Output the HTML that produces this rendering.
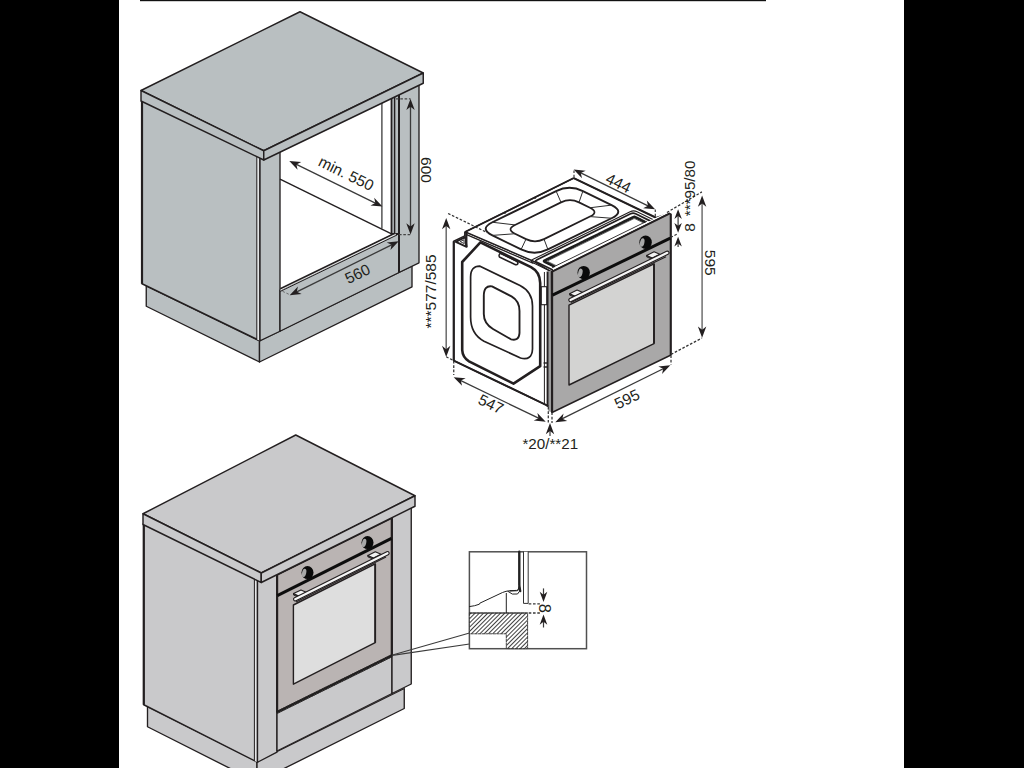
<!DOCTYPE html>
<html><head><meta charset="utf-8"><title>Oven installation dimensions</title>
<style>
html,body{margin:0;padding:0;background:#fff;}
body{width:1024px;height:768px;overflow:hidden;font-family:"Liberation Sans",sans-serif;}
svg{display:block;font-family:"Liberation Sans",sans-serif;}
</style></head><body>
<svg width="1024" height="768" viewBox="0 0 1024 768">
<rect x="0" y="0" width="1024" height="768" fill="#ffffff"/>
<rect x="0" y="0" width="119" height="768" fill="#000"/>
<rect x="904" y="0" width="120" height="768" fill="#000"/>
<rect x="140" y="-1" width="626" height="2.2" fill="#111"/>
<polygon points="146.25,286.00 259.50,341.00 259.50,362.00 146.25,306.25" fill="#b9bfc1" stroke="#231f20" stroke-width="1.35" stroke-linejoin="round" />
<polygon points="259.50,341.00 412.00,266.00 412.00,286.90 259.50,362.00" fill="#b9bfc1" stroke="#231f20" stroke-width="1.35" stroke-linejoin="round" />
<polygon points="142.00,100.00 260.00,157.00 260.00,340.75 142.00,283.75" fill="#b9bfc1" stroke="#231f20" stroke-width="1.45" stroke-linejoin="round" />
<line x1="142.00" y1="100.00" x2="142.00" y2="283.75" stroke="#231f20" stroke-width="2.2" />
<polygon points="257.00,156.00 260.00,157.00 260.00,340.75 257.00,339.50" fill="#e4e6e7" stroke="#231f20" stroke-width="0.01" stroke-linejoin="round" />
<line x1="256.80" y1="156.00" x2="256.80" y2="339.50" stroke="#231f20" stroke-width="1.0" />
<line x1="260.00" y1="157.00" x2="260.00" y2="340.75" stroke="#231f20" stroke-width="1.45" />
<polygon points="260.00,157.00 280.00,150.00 280.00,331.25 260.00,340.75" fill="#b9bfc1" stroke="#231f20" stroke-width="1.35" stroke-linejoin="round" />
<polygon points="280.00,290.00 399.00,231.50 399.00,272.50 280.00,331.25" fill="#b9bfc1" stroke="#231f20" stroke-width="1.35" stroke-linejoin="round" />
<polygon points="391.50,98.00 399.00,94.00 399.00,234.00 391.50,234.00" fill="#b9bfc1" stroke="#231f20" stroke-width="1.8" stroke-linejoin="round" />
<line x1="394.60" y1="96.00" x2="394.60" y2="234.00" stroke="#231f20" stroke-width="1.45" />
<polygon points="399.00,94.00 419.00,84.50 419.00,262.80 399.00,272.50" fill="#b9bfc1" stroke="#231f20" stroke-width="1.35" stroke-linejoin="round" />
<line x1="399.00" y1="94.00" x2="399.00" y2="272.50" stroke="#231f20" stroke-width="2.0" />
<line x1="381.90" y1="103.00" x2="381.90" y2="228.50" stroke="#333" stroke-width="1.25" />
<line x1="280.00" y1="179.20" x2="391.50" y2="233.80" stroke="#231f20" stroke-width="1.4" />
<line x1="280.30" y1="288.70" x2="395.00" y2="233.20" stroke="#231f20" stroke-width="1.7" />
<line x1="280.30" y1="290.10" x2="396.00" y2="234.10" stroke="#f4f4f4" stroke-width="0.9" />
<line x1="280.30" y1="291.40" x2="397.00" y2="235.00" stroke="#231f20" stroke-width="1.0" />
<line x1="282.50" y1="291.30" x2="290.00" y2="294.80" stroke="#555" stroke-width="0.8" stroke-dasharray="2.6 1.7"/>
<polygon points="141.00,90.50 300.00,11.75 423.25,73.00 263.75,150.75" fill="#b9bfc1" stroke="#231f20" stroke-width="1.45" stroke-linejoin="round" />
<polygon points="141.00,90.50 263.75,150.75 263.75,160.00 141.00,101.00" fill="#b9bfc1" stroke="#231f20" stroke-width="1.45" stroke-linejoin="round" />
<polygon points="263.75,150.75 423.25,73.00 423.25,83.25 263.75,160.00" fill="#b9bfc1" stroke="#231f20" stroke-width="1.45" stroke-linejoin="round" />
<line x1="295.39" y1="163.89" x2="376.36" y2="203.61" stroke="#3a3a3a" stroke-width="1.3" />
<polygon points="382.47,206.60 370.47,205.40 375.34,203.11 374.17,197.86" fill="#231f20"/>
<polygon points="289.28,160.90 301.28,162.10 296.41,164.39 297.58,169.64" fill="#231f20"/>
<text x="346.30" y="173.40" transform="rotate(26 346.30 173.40)" font-size="15.5" fill="#231f20" text-anchor="middle" dominant-baseline="central" >min. 550</text>
<line x1="295.78" y1="292.34" x2="392.62" y2="244.36" stroke="#3a3a3a" stroke-width="1.3" />
<polygon points="398.72,241.34 390.46,250.12 391.60,244.87 386.73,242.60" fill="#231f20"/>
<polygon points="289.68,295.36 297.94,286.58 296.80,291.83 301.67,294.10" fill="#231f20"/>
<text x="357.50" y="273.60" transform="rotate(-26 357.50 273.60)" font-size="15.5" fill="#231f20" text-anchor="middle" dominant-baseline="central" >560</text>
<line x1="410.50" y1="105.50" x2="410.50" y2="227.75" stroke="#3a3a3a" stroke-width="1.3" />
<polygon points="410.50,234.55 406.30,223.25 410.50,226.61 414.70,223.25" fill="#231f20"/>
<polygon points="410.50,98.70 414.70,110.00 410.50,106.64 406.30,110.00" fill="#231f20"/>
<line x1="396.00" y1="98.75" x2="410.50" y2="98.75" stroke="#444" stroke-width="1.25" stroke-dasharray="2.6 1.7"/>
<line x1="399.00" y1="234.60" x2="410.50" y2="234.60" stroke="#444" stroke-width="1.25" stroke-dasharray="2.6 1.7"/>
<text x="426.50" y="170.00" transform="rotate(90 426.50 170.00)" font-size="15.5" fill="#231f20" text-anchor="middle" dominant-baseline="central" >600</text>
<polygon points="453.75,241.25 464.80,235.80 464.80,232.20 465.40,231.80 534.50,261.60 551.40,271.70 552.00,412.50 548.75,406.25 453.75,360.60" fill="#fff" stroke="#231f20" stroke-width="1.5" stroke-linejoin="round" />
<line x1="453.75" y1="241.25" x2="453.75" y2="360.60" stroke="#231f20" stroke-width="2.2" />
<line x1="453.75" y1="360.60" x2="548.75" y2="406.25" stroke="#231f20" stroke-width="1.9" />
<polygon points="465.40,231.80 573.75,178.10 655.60,217.50 669.40,213.40 551.40,271.70 534.50,261.60" fill="#fff" stroke="#231f20" stroke-width="1.3" stroke-linejoin="round" />
<line x1="466.60" y1="234.60" x2="533.50" y2="263.40" stroke="#231f20" stroke-width="1.3" />
<line x1="504.20" y1="212.60" x2="505.60" y2="213.40" stroke="#231f20" stroke-width="1.6" />
<line x1="534.40" y1="197.60" x2="535.80" y2="198.40" stroke="#231f20" stroke-width="1.6" />
<line x1="573.75" y1="178.10" x2="655.60" y2="217.50" stroke="#231f20" stroke-width="2.0" />
<line x1="465.40" y1="231.80" x2="573.75" y2="178.10" stroke="#231f20" stroke-width="1.7" />
<polygon points="455.80,241.80 465.20,237.20 466.60,246.80" fill="#fff" stroke="#231f20" stroke-width="1.9" stroke-linejoin="round" />
<line x1="466.30" y1="232.00" x2="466.30" y2="247.00" stroke="#231f20" stroke-width="2.3" />
<polygon points="460.20,241.60 463.80,239.80 464.30,243.60" fill="#fff" stroke="#231f20" stroke-width="0.9" stroke-linejoin="round" />
<path d="M462.2,262 L462.2,350 Q462.6,357.5 469,361.3 L513.5,383.6 L540.2,366.2 L540.2,283 Q540,272 531,267.2 L480.4,242.4 L462.2,262 Z" fill="none" stroke="#231f20" stroke-width="2.6" stroke-linejoin="round" stroke-linecap="round" />
<path d="M470.6,277 Q470.6,266 480,266.2 L520,285.6 Q532.5,292 532.5,306 L532.5,349 Q532,361 520.5,358 L484,341.2 Q470.6,334 470.6,317 Z" fill="none" stroke="#231f20" stroke-width="1.7" stroke-linejoin="round" stroke-linecap="round" />
<path d="M483.8,296 Q483.8,285 492,286.4 L511.5,296.4 Q519.5,301 519.5,311 L519.5,333 Q519,341.5 511,339.3 L493,329 Q483.8,323.5 483.8,314 Z" fill="none" stroke="#231f20" stroke-width="1.9" stroke-linejoin="round" stroke-linecap="round" />
<path d="M500.2,253.2 L516.3,261 Q518.6,262.4 517.7,264 Q516.8,265.3 514.5,264.3 L499.4,257 Q498.4,255 500.2,253.2 Z" fill="#fff" stroke="#231f20" stroke-width="1.5" stroke-linejoin="round" stroke-linecap="round" />
<line x1="500.60" y1="253.00" x2="516.60" y2="260.80" stroke="#231f20" stroke-width="2.0" />
<path d="M492.40,222.26 L556.10,191.05 Q569.50,184.48 582.90,191.05 L611.60,205.11 Q625.00,211.68 611.60,218.25 L547.90,249.46 Q534.50,256.02 521.10,249.46 L492.40,235.40 Q479.00,228.83 492.40,222.26 Z" fill="none" stroke="#231f20" stroke-width="1.9" stroke-linejoin="round" stroke-linecap="round" />
<path d="M515.00,224.91 L561.00,202.37 Q570.00,197.96 579.00,202.37 L590.00,207.76 Q599.00,212.17 590.00,216.58 L544.00,239.12 Q535.00,243.53 526.00,239.12 L515.00,233.73 Q506.00,229.32 515.00,224.91 Z" fill="none" stroke="#231f20" stroke-width="1.7" stroke-linejoin="round" stroke-linecap="round" />
<line x1="515.00" y1="224.91" x2="492.40" y2="222.26" stroke="#2d2d2d" stroke-width="1.0" />
<line x1="515.00" y1="233.73" x2="492.40" y2="235.40" stroke="#2d2d2d" stroke-width="1.0" />
<line x1="544.00" y1="239.12" x2="547.90" y2="249.46" stroke="#2d2d2d" stroke-width="1.0" />
<line x1="526.00" y1="239.12" x2="521.10" y2="249.46" stroke="#2d2d2d" stroke-width="1.0" />
<line x1="561.00" y1="202.37" x2="556.10" y2="191.05" stroke="#2d2d2d" stroke-width="1.0" />
<line x1="579.00" y1="202.37" x2="582.90" y2="191.05" stroke="#2d2d2d" stroke-width="1.0" />
<line x1="590.00" y1="216.58" x2="611.60" y2="218.25" stroke="#2d2d2d" stroke-width="1.0" />
<line x1="590.00" y1="207.76" x2="611.60" y2="205.11" stroke="#2d2d2d" stroke-width="1.0" />
<path d="M550.90,271.45 L533.10,262.73 Q529.60,261.02 533.10,259.30 L630.10,211.77 Q633.60,210.06 637.10,211.77 L654.90,220.49" fill="none" stroke="#231f20" stroke-width="1.1" stroke-linejoin="round" stroke-linecap="round" />
<path d="M553.40,270.23 L536.90,262.14 Q534.40,260.92 536.90,259.69 L630.60,213.78 Q633.10,212.56 635.60,213.78 L652.10,221.87" fill="none" stroke="#231f20" stroke-width="1.7" stroke-linejoin="round" stroke-linecap="round" />
<path d="M553.70,266.16 L544.70,261.75 Q543.50,261.17 544.70,260.58 L633.10,217.26 Q634.30,216.67 635.50,217.26 L644.50,221.67" fill="none" stroke="#1d1d1d" stroke-width="2.7" stroke-linejoin="round" stroke-linecap="round" stroke-dasharray="1.3 0.45" stroke-linecap="butt"/>
<path d="M555.80,265.43 L547.90,261.56 Q547.10,261.16 547.90,260.77 L633.50,218.83 Q634.30,218.44 635.10,218.83 L643.00,222.70" fill="none" stroke="#333" stroke-width="0.7" stroke-linejoin="round" stroke-linecap="round" />
<line x1="552.10" y1="267.63" x2="647.10" y2="221.08" stroke="#231f20" stroke-width="0.9" />
<line x1="544.40" y1="272.00" x2="544.40" y2="404.50" stroke="#231f20" stroke-width="1.0" />
<rect x="548.3" y="271" width="3.4" height="140.5" fill="#9c9c9c"/>
<line x1="547.60" y1="271.50" x2="547.60" y2="406.80" stroke="#231f20" stroke-width="2.0" />
<rect x="541.3" y="286.7" width="5.4" height="18" fill="#fff" stroke="#231f20" stroke-width="1.1"/>
<line x1="543.60" y1="363.00" x2="547.00" y2="363.00" stroke="#231f20" stroke-width="1.4" />
<line x1="543.60" y1="367.00" x2="547.00" y2="367.00" stroke="#231f20" stroke-width="1.4" />
<polygon points="551.40,271.70 669.40,213.40 671.00,214.20 671.00,355.00 552.00,412.50" fill="#a9a8a8" stroke="#231f20" stroke-width="1.4" stroke-linejoin="round" />
<line x1="552.10" y1="271.70" x2="552.10" y2="412.30" stroke="#231f20" stroke-width="2.1" />
<line x1="670.60" y1="214.00" x2="670.60" y2="355.00" stroke="#231f20" stroke-width="1.8" />
<line x1="553.00" y1="269.60" x2="668.00" y2="212.60" stroke="#fff" stroke-width="1.2" />
<line x1="551.60" y1="271.90" x2="669.40" y2="213.60" stroke="#231f20" stroke-width="1.9" />
<line x1="552.50" y1="295.20" x2="670.30" y2="238.20" stroke="#0d0d0d" stroke-width="3.0" />
<polygon points="569.00,305.20 654.00,263.80 654.00,343.60 569.00,385.00" fill="#d3d3d2" stroke="#231f20" stroke-width="1.4" stroke-linejoin="round" />
<line x1="654.00" y1="263.80" x2="654.00" y2="343.60" stroke="#231f20" stroke-width="1.8" />
<ellipse cx="583.70" cy="272.60" rx="6.20" ry="6.70" fill="#0a0a0a"/>
<ellipse cx="580.40" cy="272.90" rx="2.16" ry="4.32" fill="#a8a8a8" transform="rotate(12 580.40 272.60)"/>
<ellipse cx="645.60" cy="242.20" rx="6.20" ry="6.70" fill="#0a0a0a"/>
<ellipse cx="642.30" cy="242.50" rx="2.16" ry="4.32" fill="#a8a8a8" transform="rotate(12 642.30 242.20)"/>
<polygon points="569.60,293.70 575.30,296.30 575.30,297.70 569.60,295.10" fill="#555" stroke="#231f20" stroke-width="0.9" stroke-linejoin="round" />
<polygon points="569.60,293.70 577.10,290.00 582.80,292.50 575.30,296.30" fill="#f2f2f2" stroke="#231f20" stroke-width="1.1" stroke-linejoin="round" />
<polygon points="646.60,255.40 652.30,258.00 652.30,259.40 646.60,256.80" fill="#555" stroke="#231f20" stroke-width="0.9" stroke-linejoin="round" />
<polygon points="646.60,255.40 654.10,251.70 659.80,254.20 652.30,258.00" fill="#f2f2f2" stroke="#231f20" stroke-width="1.1" stroke-linejoin="round" />
<line x1="571.00" y1="302.60" x2="666.00" y2="256.70" stroke="#231f20" stroke-width="1.1" />
<line x1="570.50" y1="300.00" x2="667.30" y2="252.80" stroke="#231f20" stroke-width="4.4" stroke-linecap="round"/>
<line x1="570.50" y1="300.00" x2="667.30" y2="252.80" stroke="#f6f6f6" stroke-width="2.2" stroke-linecap="round"/>
<line x1="579.79" y1="172.44" x2="649.01" y2="206.36" stroke="#3a3a3a" stroke-width="1.3" />
<polygon points="655.12,209.35 643.12,208.15 647.99,205.86 646.82,200.61" fill="#231f20"/>
<polygon points="573.68,169.45 585.68,170.65 580.81,172.94 581.98,178.19" fill="#231f20"/>
<line x1="574.00" y1="170.50" x2="574.00" y2="178.00" stroke="#444" stroke-width="1.25" stroke-dasharray="2.6 1.7"/>
<line x1="655.30" y1="209.50" x2="655.30" y2="217.50" stroke="#444" stroke-width="1.25" stroke-dasharray="2.6 1.7"/>
<text x="618.60" y="183.00" transform="rotate(26 618.60 183.00)" font-size="15.5" fill="#231f20" text-anchor="middle" dominant-baseline="central" >444</text>
<line x1="446.20" y1="224.80" x2="446.20" y2="350.30" stroke="#6a6a6a" stroke-width="1.5" />
<polygon points="446.20,357.10 442.00,345.80 446.20,349.16 450.40,345.80" fill="#231f20"/>
<polygon points="446.20,218.00 450.40,229.30 446.20,225.94 442.00,229.30" fill="#231f20"/>
<line x1="448.10" y1="213.50" x2="487.50" y2="232.70" stroke="#333" stroke-width="1.25" stroke-dasharray="2.6 1.7"/>
<line x1="446.20" y1="356.80" x2="453.75" y2="360.60" stroke="#333" stroke-width="1.25" stroke-dasharray="2.6 1.7"/>
<line x1="453.75" y1="361.00" x2="453.75" y2="375.00" stroke="#333" stroke-width="1.25" stroke-dasharray="2.6 1.7"/>
<text x="430.50" y="291.50" transform="rotate(-90 430.50 291.50)" font-size="15.5" fill="#231f20" text-anchor="middle" dominant-baseline="central" >***577/585</text>
<line x1="459.80" y1="380.11" x2="539.60" y2="418.69" stroke="#3a3a3a" stroke-width="1.3" />
<polygon points="545.72,421.65 533.72,420.51 538.57,418.19 537.37,412.95" fill="#231f20"/>
<polygon points="453.68,377.15 465.68,378.29 460.83,380.61 462.03,385.85" fill="#231f20"/>
<text x="491.00" y="404.00" transform="rotate(26 491.00 404.00)" font-size="15.5" fill="#231f20" text-anchor="middle" dominant-baseline="central" >547</text>
<line x1="561.38" y1="419.14" x2="664.22" y2="368.26" stroke="#3a3a3a" stroke-width="1.3" />
<polygon points="670.32,365.25 662.05,374.02 663.20,368.77 658.33,366.49" fill="#231f20"/>
<polygon points="555.28,422.15 563.55,413.38 562.40,418.63 567.27,420.91" fill="#231f20"/>
<text x="627.00" y="399.00" transform="rotate(-26 627.00 399.00)" font-size="15.5" fill="#231f20" text-anchor="middle" dominant-baseline="central" >595</text>
<line x1="548.30" y1="407.00" x2="548.30" y2="423.00" stroke="#333" stroke-width="1.25" stroke-dasharray="2.6 1.7"/>
<line x1="552.00" y1="412.50" x2="552.00" y2="423.00" stroke="#333" stroke-width="1.25" stroke-dasharray="2.6 1.7"/>
<line x1="671.00" y1="355.50" x2="671.00" y2="364.50" stroke="#333" stroke-width="1.25" stroke-dasharray="2.6 1.7"/>
<line x1="550.00" y1="436.00" x2="550.00" y2="429.80" stroke="#3a3a3a" stroke-width="1.2" />
<polygon points="550.00,423.00 554.20,434.30 550.00,430.94 545.80,434.30" fill="#231f20"/>
<text x="550.30" y="443.30" transform="rotate(0 550.30 443.30)" font-size="15.2" fill="#231f20" text-anchor="middle" dominant-baseline="central" >*20/**21</text>
<line x1="702.10" y1="202.30" x2="702.10" y2="330.90" stroke="#808080" stroke-width="1.7" />
<polygon points="702.10,337.70 697.90,326.40 702.10,329.76 706.30,326.40" fill="#231f20"/>
<polygon points="702.10,195.50 706.30,206.80 702.10,203.44 697.90,206.80" fill="#231f20"/>
<line x1="666.90" y1="212.50" x2="701.90" y2="191.90" stroke="#333" stroke-width="1.25" stroke-dasharray="2.6 1.7"/>
<line x1="671.00" y1="354.40" x2="702.00" y2="338.00" stroke="#333" stroke-width="1.25" stroke-dasharray="2.6 1.7"/>
<text x="710.00" y="262.80" transform="rotate(90 710.00 262.80)" font-size="15.5" fill="#231f20" text-anchor="middle" dominant-baseline="central" >595</text>
<line x1="678.10" y1="216.00" x2="678.10" y2="225.90" stroke="#3a3a3a" stroke-width="1.2" />
<polygon points="678.10,232.70 674.35,222.90 678.10,225.78 681.85,222.90" fill="#231f20"/>
<polygon points="678.10,209.20 681.85,219.00 678.10,216.12 674.35,219.00" fill="#231f20"/>
<line x1="678.10" y1="247.00" x2="678.10" y2="243.50" stroke="#3a3a3a" stroke-width="1.2" />
<polygon points="678.10,236.70 681.85,246.50 678.10,243.62 674.35,246.50" fill="#231f20"/>
<line x1="670.60" y1="237.50" x2="677.50" y2="233.90" stroke="#333" stroke-width="1.25" stroke-dasharray="2.6 1.7"/>
<text x="689.60" y="227.50" transform="rotate(-90 689.60 227.50)" font-size="15.5" fill="#231f20" text-anchor="middle" dominant-baseline="central" >8</text>
<text x="689.80" y="188.40" transform="rotate(-90 689.80 188.40)" font-size="15.2" fill="#231f20" text-anchor="middle" dominant-baseline="central" >***95/80</text>
<polygon points="147.50,706.50 257.00,761.50 257.00,782.00 147.50,726.75" fill="#c9c9cb" stroke="#231f20" stroke-width="1.35" stroke-linejoin="round" />
<polygon points="257.00,761.50 404.25,688.50 404.25,708.50 257.00,782.00" fill="#c9c9cb" stroke="#231f20" stroke-width="1.35" stroke-linejoin="round" />
<polygon points="143.75,523.00 257.50,579.00 257.50,762.25 143.75,704.75" fill="#c9c9cb" stroke="#231f20" stroke-width="1.45" stroke-linejoin="round" />
<line x1="143.75" y1="523.00" x2="143.75" y2="704.75" stroke="#231f20" stroke-width="2.2" />
<polygon points="254.50,578.00 257.50,579.00 257.50,762.25 254.50,761.00" fill="#e6e6e8" stroke="#231f20" stroke-width="0.01" stroke-linejoin="round" />
<line x1="254.40" y1="578.00" x2="254.40" y2="761.00" stroke="#231f20" stroke-width="1.0" />
<line x1="257.50" y1="579.00" x2="257.50" y2="762.25" stroke="#231f20" stroke-width="1.45" />
<polygon points="257.50,579.00 277.00,572.00 277.00,752.20 257.50,762.25" fill="#c9c9cb" stroke="#231f20" stroke-width="1.35" stroke-linejoin="round" />
<polygon points="277.00,712.00 392.00,655.00 392.00,693.50 277.00,751.00" fill="#c9c9cb" stroke="#231f20" stroke-width="1.35" stroke-linejoin="round" />
<polygon points="392.00,517.00 411.25,507.00 411.25,684.00 392.00,693.50" fill="#c9c9cb" stroke="#231f20" stroke-width="1.35" stroke-linejoin="round" />
<polygon points="277.00,575.00 392.00,518.00 392.00,655.30 277.00,712.20" fill="#bab4b3" stroke="#231f20" stroke-width="1.45" stroke-linejoin="round" />
<line x1="277.10" y1="575.00" x2="277.10" y2="712.20" stroke="#231f20" stroke-width="2.2" />
<line x1="391.70" y1="518.00" x2="391.70" y2="655.30" stroke="#231f20" stroke-width="2.0" />
<line x1="277.00" y1="712.30" x2="392.00" y2="655.60" stroke="#1c1c1c" stroke-width="2.7" stroke-dasharray="1.3 0.45"/>
<line x1="277.00" y1="711.20" x2="392.00" y2="654.50" stroke="#231f20" stroke-width="0.8" />
<line x1="277.00" y1="713.50" x2="392.00" y2="656.80" stroke="#231f20" stroke-width="0.8" />
<line x1="277.30" y1="595.60" x2="391.50" y2="538.30" stroke="#0d0d0d" stroke-width="3.0" />
<polygon points="293.40,605.00 375.20,563.80 375.20,642.70 293.40,684.20" fill="#dedede" stroke="#231f20" stroke-width="1.4" stroke-linejoin="round" />
<line x1="375.20" y1="563.80" x2="375.20" y2="642.70" stroke="#231f20" stroke-width="1.8" />
<ellipse cx="307.50" cy="572.60" rx="6.00" ry="6.50" fill="#0a0a0a"/>
<ellipse cx="304.20" cy="572.90" rx="2.09" ry="4.18" fill="#a8a8a8" transform="rotate(12 304.20 572.60)"/>
<ellipse cx="367.50" cy="542.60" rx="6.00" ry="6.50" fill="#0a0a0a"/>
<ellipse cx="364.20" cy="542.90" rx="2.09" ry="4.18" fill="#a8a8a8" transform="rotate(12 364.20 542.60)"/>
<polygon points="293.50,593.60 299.20,596.20 299.20,597.60 293.50,595.00" fill="#555" stroke="#231f20" stroke-width="0.9" stroke-linejoin="round" />
<polygon points="293.50,593.60 301.00,589.90 306.70,592.40 299.20,596.20" fill="#f2f2f2" stroke="#231f20" stroke-width="1.1" stroke-linejoin="round" />
<polygon points="367.80,555.40 373.50,558.00 373.50,559.40 367.80,556.80" fill="#555" stroke="#231f20" stroke-width="0.9" stroke-linejoin="round" />
<polygon points="367.80,555.40 375.30,551.70 381.00,554.20 373.50,558.00" fill="#f2f2f2" stroke="#231f20" stroke-width="1.1" stroke-linejoin="round" />
<line x1="296.00" y1="602.00" x2="386.00" y2="557.00" stroke="#231f20" stroke-width="1.1" />
<line x1="295.20" y1="599.20" x2="387.50" y2="553.20" stroke="#231f20" stroke-width="4.4" stroke-linecap="round"/>
<line x1="295.20" y1="599.20" x2="387.50" y2="553.20" stroke="#f6f6f6" stroke-width="2.2" stroke-linecap="round"/>
<polygon points="143.00,513.75 295.75,435.00 415.00,495.75 261.25,573.00" fill="#c9c9cb" stroke="#231f20" stroke-width="1.45" stroke-linejoin="round" />
<polygon points="143.00,513.75 261.25,573.00 261.25,582.50 143.00,524.50" fill="#c9c9cb" stroke="#231f20" stroke-width="1.45" stroke-linejoin="round" />
<polygon points="261.25,573.00 415.00,495.75 415.00,506.25 261.25,582.50" fill="#c9c9cb" stroke="#231f20" stroke-width="1.45" stroke-linejoin="round" />
<line x1="392.50" y1="655.00" x2="469.50" y2="633.00" stroke="#3a3a3a" stroke-width="1.1" />
<line x1="392.50" y1="655.40" x2="469.50" y2="644.00" stroke="#3a3a3a" stroke-width="1.1" />
<defs><pattern id="hatch" width="3.0" height="3.0" patternUnits="userSpaceOnUse" patternTransform="rotate(-45)"><rect width="3.0" height="3.0" fill="#fff"/><line x1="0" y1="1.5" x2="3.0" y2="1.5" stroke="#2a2a2a" stroke-width="0.9"/></pattern></defs>
<rect x="469.4" y="551.8" width="117.1" height="96.9" fill="#fff" stroke="#505050" stroke-width="1.5"/>
<path d="M469.4,613 L527.6,613 L527.6,648.6 L506.3,648.6 L506.3,633.8 L469.4,633.8 Z" fill="url(#hatch)" stroke="#333" stroke-width="0.9" stroke-linejoin="round" stroke-linecap="round" stroke-dasharray="2.5 1.2"/>
<line x1="469.40" y1="613.00" x2="527.60" y2="613.00" stroke="#333" stroke-width="1.0" />
<path d="M469.4,606.6 Q475,606 479.4,604.2 L479.8,603.2 L502.5,592.5 Q506,591 509.5,590.8 L516,590.4" fill="none" stroke="#222" stroke-width="1.0" stroke-linejoin="round" stroke-linecap="round" />
<line x1="506.30" y1="593.00" x2="506.30" y2="613.00" stroke="#222" stroke-width="1.0" />
<path d="M508,591.5 Q512,595.5 517.5,594 Q520,592 520.2,588" fill="none" stroke="#222" stroke-width="1.0" stroke-linejoin="round" stroke-linecap="round" />
<path d="M510,590.9 L517,590.6 Q518.8,590 519,586.5" fill="none" stroke="#222" stroke-width="1.2" stroke-linejoin="round" stroke-linecap="round" />
<path d="M519.3,551.8 L519.3,585 Q519.6,589 520.2,591" fill="none" stroke="#222" stroke-width="2.4" stroke-linejoin="round" stroke-linecap="round" />
<path d="M523.5,551.8 L523.5,603.4 L528.2,603.4 L528.2,551.8" fill="#fff" stroke="#333" stroke-width="1.0" stroke-linejoin="round" stroke-linecap="round" />
<line x1="528.70" y1="603.80" x2="541.50" y2="603.80" stroke="#3a3a3a" stroke-width="1.3" stroke-dasharray="2.6 1.7"/>
<line x1="528.70" y1="613.00" x2="541.50" y2="613.00" stroke="#3a3a3a" stroke-width="1.3" stroke-dasharray="2.6 1.7"/>
<line x1="543.50" y1="588.40" x2="543.50" y2="595.20" stroke="#3a3a3a" stroke-width="1.2" />
<polygon points="543.50,602.00 539.70,591.70 543.50,594.74 547.30,591.70" fill="#231f20"/>
<line x1="543.50" y1="627.50" x2="543.50" y2="621.20" stroke="#3a3a3a" stroke-width="1.2" />
<polygon points="543.50,614.40 547.30,624.70 543.50,621.66 539.70,624.70" fill="#231f20"/>
<text x="545.40" y="608.20" transform="rotate(90 545.40 608.20)" font-size="16.4" fill="#231f20" text-anchor="middle" dominant-baseline="central" >8</text>
</svg>
</body></html>
